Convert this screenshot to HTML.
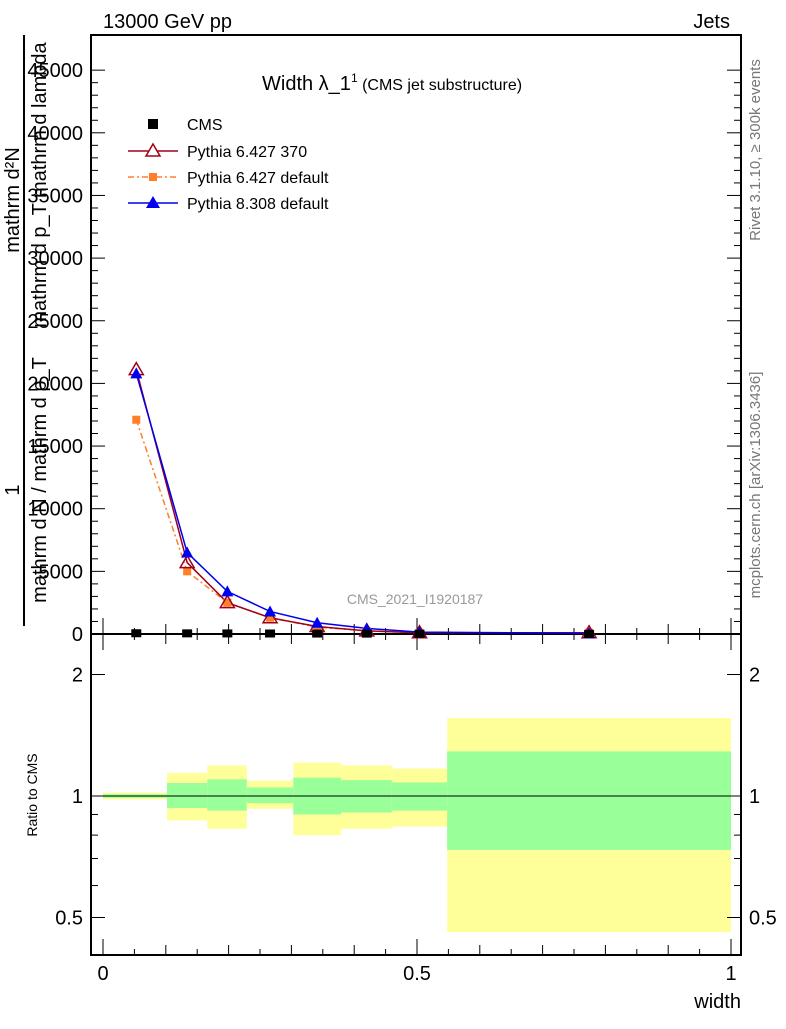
<!DOCTYPE html>
<html><head><meta charset="utf-8"><style>
body{margin:0;background:#fff;}
svg{font-family:"Liberation Sans",sans-serif;}
</style></head><body>
<svg id="c" width="786" height="1024" xmlns="http://www.w3.org/2000/svg">
<text x="103" y="28" font-size="20">13000 GeV pp</text>
<text x="730" y="28" font-size="20" text-anchor="end">Jets</text>
<text x="262" y="90" font-size="20">Width λ_1<tspan font-size="12" dy="-8">1</tspan><tspan font-size="16" dy="8"> (CMS jet substructure)</tspan></text>
<text transform="translate(760,150) rotate(-90)" font-size="15" fill="#777" text-anchor="middle">Rivet 3.1.10, ≥ 300k events</text>
<text transform="translate(760,485) rotate(-90)" font-size="15" fill="#777" text-anchor="middle">mcplots.cern.ch [arXiv:1306.3436]</text>
<text x="415" y="604" font-size="14" fill="#999" text-anchor="middle">CMS_2021_I1920187</text>
<g font-size="20">
<text transform="translate(19,200) rotate(-90)" text-anchor="middle">mathrm d²N</text>
<text transform="translate(19,490) rotate(-90)" text-anchor="middle">1</text>
<line x1="24" y1="35" x2="24" y2="626" stroke="#000" stroke-width="2"/>
<text transform="translate(46,185) rotate(-90)" text-anchor="middle">mathrm d p_T mathrm d lambda</text>
<text transform="translate(46,480) rotate(-90)" text-anchor="middle">mathrm d N / mathrm d p_T</text>
</g>
<text transform="translate(37,795) rotate(-90)" font-size="14" text-anchor="middle">Ratio to CMS</text>
<text x="741" y="1008" font-size="20" text-anchor="end">width</text>
<g id="bands"></g><g id="axes"></g><g id="series"></g>
<g font-size="16">
<g><rect x="148" y="119" width="10" height="10"/><text x="187" y="130">CMS</text></g>
<g><line x1="128" y1="151" x2="178" y2="151" stroke="#a00018" stroke-width="1.5"/><polygon points="153,144 160,156 146,156" fill="#fff" stroke="#a00018" stroke-width="1.5"/><text x="187" y="157">Pythia 6.427 370</text></g>
<g><line x1="128" y1="177" x2="178" y2="177" stroke="#ff7f2a" stroke-width="1.5" stroke-dasharray="6,3,2,3"/><rect x="149" y="173" width="8" height="8" fill="#ff7f2a"/><text x="187" y="183">Pythia 6.427 default</text></g>
<g><line x1="128" y1="203" x2="178" y2="203" stroke="#0000ee" stroke-width="1.5"/><polygon points="153,196 160,208 146,208" fill="#0000ee"/><text x="187" y="209">Pythia 8.308 default</text></g>
</g>
</svg>
<script>
const binEdges=[0,0.102,0.166,0.229,0.303,0.379,0.460,0.548,1.0];
const binCenters=[0.053,0.134,0.198,0.266,0.341,0.42,0.504,0.774];
const cms=[60,50,45,40,35,30,20,10];
const py6_370=[21100,5700,2500,1300,600,250,100,100];
const py6_def=[17100,5000,2500,1300,550,250,100,100];
const py8=[20800,6500,3400,1800,900,450,150,50];
const yellowHi=[1.02,1.14,1.19,1.09,1.21,1.19,1.17,1.56];
const yellowLo=[0.98,0.87,0.83,0.93,0.80,0.83,0.84,0.46];
const greenHi=[1.01,1.077,1.10,1.05,1.11,1.095,1.08,1.29];
const greenLo=[0.99,0.934,0.92,0.96,0.90,0.91,0.92,0.735];
const yTicks=[0,5000,10000,15000,20000,25000,30000,35000,40000,45000];
const xTicks=[0,0.5,1];
const rTicks=[0.5,1,2];
const NS="http://www.w3.org/2000/svg";
const X0=91,X1=741,T=35,M=634,B=955;
const sx=v=>103+v*628;
const sy=v=>634-v*0.012530;
const sr=v=>796-Math.log2(v)*121.5;
function mk(tag,at,p){const e=document.createElementNS(NS,tag);for(const k in at)e.setAttribute(k,at[k]);p.appendChild(e);return e;}
const bands=document.getElementById('bands'),axes=document.getElementById('axes'),ser=document.getElementById('series');
for(let i=0;i<binCenters.length;i++){
 const x1=sx(binEdges[i]),x2=sx(binEdges[i+1]);
 const y=mk('rect',{x:x1,y:sr(yellowHi[i]),width:x2-x1,height:sr(yellowLo[i])-sr(yellowHi[i]),fill:'#ffff99'},bands);
 
 
 const g=mk('rect',{x:x1,y:sr(greenHi[i]),width:x2-x1,height:sr(greenLo[i])-sr(greenHi[i]),fill:'#99ff99'},bands);
 
 
}
const l1=mk('line',{x1:sx(0),x2:sx(1),y1:sr(1),y2:sr(1),stroke:'#000','stroke-width':1},bands);


const f1=mk('rect',{x:X0,y:T,width:X1-X0,height:M-T,fill:'none',stroke:'#000','stroke-width':2},axes);


const f2=mk('rect',{x:X0,y:M,width:X1-X0,height:B-M,fill:'none',stroke:'#000','stroke-width':2},axes);


for(let v=0;v<=45000;v+=1000){const y=sy(v);if(y<T)continue;const L=v%5000==0?14:7;
 mk('line',{x1:X0,x2:X0+L,y1:y,y2:y,stroke:'#000'},axes);mk('line',{x1:X1,x2:X1-L,y1:y,y2:y,stroke:'#000'},axes);}
yTicks.forEach(v=>{const t=mk('text',{x:83,y:sy(v)+7,'font-size':20,'text-anchor':'end'},axes);t.textContent=v;
 
 });
for(let v=0;v<=1.0001;v+=0.05){const x=sx(v);const L=Math.abs(v*10-Math.round(v*10))<0.01?(Math.abs(v*2-Math.round(v*2))<0.01?16:10):6;
 mk('line',{x1:x,x2:x,y1:M,y2:M-L,stroke:'#000'},axes);mk('line',{x1:x,x2:x,y1:M,y2:M+L,stroke:'#000'},axes);mk('line',{x1:x,x2:x,y1:B,y2:B-L,stroke:'#000'},axes);}
xTicks.forEach(v=>{const t=mk('text',{x:sx(v),y:980,'font-size':20,'text-anchor':'middle'},axes);t.textContent=v;
 
 });
[0.4,0.5,0.6,0.7,0.8,0.9,1,2].forEach(v=>{const y=sr(v);if(y>B||y<M)return;const L=[0.5,1,2].includes(v)?14:7;
 mk('line',{x1:X0,x2:X0+L,y1:y,y2:y,stroke:'#000'},axes);mk('line',{x1:X1,x2:X1-L,y1:y,y2:y,stroke:'#000'},axes);});
rTicks.forEach(v=>{[[83,'end'],[749,'start']].forEach(([x,a])=>{const t=mk('text',{x:x,y:sr(v)+7,'font-size':20,'text-anchor':a},axes);t.textContent=v;
 
 });});
function line(vals,color,dash,name){const pts=vals.map((v,i)=>sx(binCenters[i])+','+sy(v)).join(' ');
 const p=mk('polyline',{points:pts,fill:'none',stroke:color,'stroke-width':1.5},ser);if(dash)p.setAttribute('stroke-dasharray',dash);
 
 }
line(py6_def,'#ff7f2a','6,3,2,3','pythia6-default-line');
line(py6_370,'#a00018',null,'pythia6-370-line');
line(py8,'#0000ee',null,'pythia8-line');
py6_def.forEach((v,i)=>{const r=mk('rect',{x:sx(binCenters[i])-4,y:sy(v)-4,width:8,height:8,fill:'#ff7f2a'},ser);
 
 });
py6_370.forEach((v,i)=>{const x=sx(binCenters[i]),y=sy(v);const p=mk('polygon',{points:`${x},${y-7} ${x+7},${y+5} ${x-7},${y+5}`,fill:'#fff','fill-opacity':0,stroke:'#a00018','stroke-width':1.5},ser);
 
 });
py8.forEach((v,i)=>{const x=sx(binCenters[i]),y=sy(v);const p=mk('polygon',{points:`${x},${y-6} ${x+6},${y+5} ${x-6},${y+5}`,fill:'#0000ee'},ser);
 
 });
cms.forEach((v,i)=>{const r=mk('rect',{x:sx(binCenters[i])-5,y:sy(v)-4,width:10,height:8,fill:'#000'},ser);
 
 });
</script>
</body></html>
